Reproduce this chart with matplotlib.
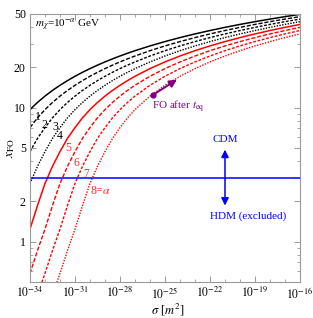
import matplotlib
matplotlib.use("Agg")
import matplotlib.pyplot as plt
from matplotlib.ticker import FixedLocator, NullFormatter, FixedFormatter
import numpy as np

# ---- data ----
log_sigma = [-34, -33.5, -33, -32.5, -32, -31.5, -31, -30.5, -30, -29.5, -29,
             -28.5, -28, -27.5, -27, -26, -25, -24, -23, -22, -21, -20, -19,
             -18, -17, -16]

xfo_1 = [9.67, 10.94, 12.20, 13.45, 14.69, 15.92, 17.15, 18.36, 19.57, 20.77, 21.95,
         23.13, 24.30, 25.46, 26.62, 28.89, 31.13, 33.34, 35.51, 37.64, 39.74, 41.81,
         43.83, 45.82, 47.78, 49.70]
xfo_2 = [7.10, 8.40, 9.67, 10.94, 12.20, 13.45, 14.69, 15.92, 17.15, 18.36, 19.57,
         20.77, 21.95, 23.13, 24.30, 26.62, 28.89, 31.13, 33.34, 35.51, 37.64, 39.74,
         41.81, 43.83, 45.82, 47.78]
xfo_3 = [4.70, 5.90, 7.10, 8.40, 9.67, 10.94, 12.20, 13.45, 14.69, 15.92, 17.15,
         18.36, 19.57, 20.77, 21.95, 24.30, 26.62, 28.89, 31.13, 33.34, 35.51, 37.64,
         39.74, 41.81, 43.83, 45.82]
xfo_4 = [2.72, 3.65, 4.70, 5.90, 7.10, 8.40, 9.67, 10.94, 12.20, 13.45, 14.69,
         15.92, 17.15, 18.36, 19.57, 21.95, 24.30, 26.62, 28.89, 31.13, 33.34, 35.51,
         37.64, 39.74, 41.81, 43.83]
xfo_5 = [1.24, 1.86, 2.72, 3.65, 4.70, 5.90, 7.10, 8.40, 9.67, 10.94, 12.20,
         13.45, 14.69, 15.92, 17.15, 19.57, 21.95, 24.30, 26.62, 28.89, 31.13, 33.34,
         35.51, 37.64, 39.74, 41.81]
xfo_6 = [0.58, 0.86, 1.24, 1.86, 2.72, 3.65, 4.70, 5.90, 7.10, 8.40, 9.67,
         10.94, 12.20, 13.45, 14.69, 17.15, 19.57, 21.95, 24.30, 26.62, 28.89, 31.13,
         33.34, 35.51, 37.64, 39.74]
xfo_7 = [0.28, 0.40, 0.58, 0.86, 1.24, 1.86, 2.72, 3.65, 4.70, 5.90, 7.10,
         8.40, 9.67, 10.94, 12.20, 14.69, 17.15, 19.57, 21.95, 24.30, 26.62, 28.89,
         31.13, 33.34, 35.51, 37.64]
xfo_8 = [0.13, 0.19, 0.28, 0.40, 0.58, 0.86, 1.24, 1.86, 2.72, 3.65, 4.70,
         5.90, 7.10, 8.40, 9.67, 12.20, 14.69, 17.15, 19.57, 21.95, 24.30, 26.62,
         28.89, 31.13, 33.34, 35.51]

curve_labels = ["1", "2", "3", "4", "5", "6", "7", "8=$\\alpha$"]
label_log_sigma = [-33.5, -33.03, -32.33, -32.0, -31.47, -30.93, -30.27, -29.27]
label_xfo = [8.57, 7.47, 7.21, 6.18, 5.03, 3.89, 3.22, 2.40]

hdm_cdm_boundary = 3.0
arrow_log_sigma = -21.0
arrow_range = [1.86, 4.86]
fo_dot = [-25.82, 12.4]
fo_tip = [-24.2, 16.2]

x_ticks_exp = [-34, -31, -28, -25, -22, -19, -16]
y_ticks = [1, 2, 5, 10, 20, 50]

# ---- style ----
plt.rcParams['font.family'] = ['Liberation Serif', 'DejaVu Serif']
plt.rcParams['mathtext.fontset'] = 'stix'

fig = plt.figure(figsize=(3.13, 3.18), dpi=100)
ax = fig.add_axes([30/313, 1-282/318, 270/313, 268/318])

sig = 10.0 ** np.array(log_sigma)
styles = [
    ('black', '-', None),
    ('black', '--', (3.0, 1.3)),
    ('black', '--', (2.0, 1.2)),
    ('black', '--', (1.0, 1.0)),
    ('red', '-', None),
    ('red', '--', (3.0, 1.3)),
    ('red', '--', (2.0, 1.2)),
    ('red', '--', (1.0, 1.0)),
]
curves = [xfo_1, xfo_2, xfo_3, xfo_4, xfo_5, xfo_6, xfo_7, xfo_8]
for ys, (c, ls, d) in zip(curves, styles):
    line, = ax.plot(sig, ys, color=c, lw=1.1 if ls == '-' else 1.0, ls=ls)
    if d is not None:
        line.set_dashes(d)

for lab, ls_, yv, i in zip(curve_labels, label_log_sigma, label_xfo, range(8)):
    ax.text(10**ls_, yv, lab, color='black' if i < 4 else '#ff2a2a',
            fontsize=8.5, ha='center', va='center')

ax.axhline(hdm_cdm_boundary, color='#0000ff', lw=1.1)
ax.annotate('', xy=(10**arrow_log_sigma, arrow_range[1]),
            xytext=(10**arrow_log_sigma, arrow_range[0]),
            arrowprops=dict(arrowstyle='<|-|>', color='#0000ff', lw=1.1,
                            mutation_scale=11, shrinkA=0, shrinkB=0))
ax.text(10**arrow_log_sigma, 5.77, 'CDM', color='#0000ff', fontsize=8,
        ha='center', va='center')
ax.text(10**-19.47, 1.54, 'HDM (excluded)', color='#0000ff', fontsize=8,
        ha='center', va='center')

purple = '#800080'
ax.plot([10**fo_dot[0]], [fo_dot[1]], 'o', color=purple, ms=3.5)
ax.annotate('', xy=(10**fo_tip[0], fo_tip[1]), xytext=(10**fo_dot[0], fo_dot[1]),
            arrowprops=dict(arrowstyle='-|>', color=purple, lw=1.4,
                            mutation_scale=11, shrinkA=0, shrinkB=0))
ax.text(10**-25.87, 10.2, 'FO after $t_{\\rm eq}$', color=purple, fontsize=8,
        ha='left', va='center')

ax.text(0.02, 0.959, '$m_\\chi$=10$^{-\\alpha}$ GeV', transform=ax.transAxes,
        fontsize=8, ha='left', va='center')

ax.set_xscale('log')
ax.set_yscale('log')
ax.set_xlim(1e-34, 1e-16)
ax.set_ylim(0.5, 50)

ax.xaxis.set_major_locator(FixedLocator([10.0**e for e in x_ticks_exp]))
ax.xaxis.set_major_formatter(FixedFormatter(['$10^{%d}$' % e for e in x_ticks_exp]))
ax.xaxis.set_minor_locator(FixedLocator([10.0**e for e in range(-34, -15)]))
ax.xaxis.set_minor_formatter(NullFormatter())

ax.yaxis.set_major_locator(FixedLocator(y_ticks))
ax.yaxis.set_major_formatter(FixedFormatter([str(v) for v in y_ticks]))
ax.yaxis.set_minor_locator(FixedLocator([0.6, 0.7, 0.8, 0.9, 3, 4, 6, 7, 8, 9, 30, 40]))
ax.yaxis.set_minor_formatter(NullFormatter())

for s in ax.spines.values():
    s.set_color('#999999')
    s.set_linewidth(0.8)
ax.tick_params(which='both', direction='in', top=True, right=True,
               color='#999999', labelsize=8.5, labelcolor='black')
ax.tick_params(which='major', length=4, width=0.7, pad=3)
ax.tick_params(which='minor', length=2, width=0.6)

ax.set_xlabel('$\\sigma$ [$m^2$]', fontsize=9, va='center')
ax.xaxis.set_label_coords(138/270, -27.5/268)
ax.set_ylabel('$x_{\\rm FO}$', fontsize=9.5, va='center')
ax.yaxis.set_label_coords(-19/270, 0.5)

fig.savefig('out.png', dpi=100)
